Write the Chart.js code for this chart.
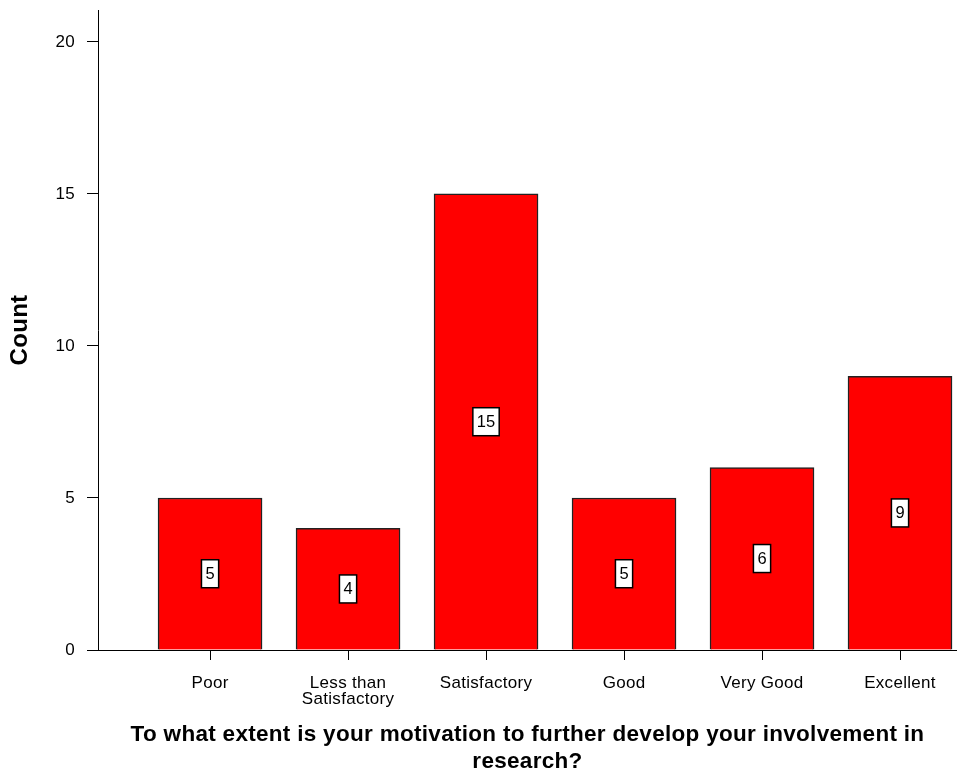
<!DOCTYPE html>
<html>
<head>
<meta charset="utf-8">
<script src="https://cdn.jsdelivr.net/npm/chart.js@4/dist/chart.umd.min.js"></script>
<style>
  html, body { margin: 0; padding: 0; background: #fff; }
  #wrap { width: 957px; height: 772px; position: relative; }
</style>
</head>
<body>
<div id="wrap"><canvas id="chart"></canvas></div>
<script>
  // chart values
  var categories = ['Poor', ['Less than', 'Satisfactory'], 'Satisfactory', 'Good', 'Very Good', 'Excellent'];
  var counts = [5, 4, 15, 5, 6, 9];
  var yTicks = [0, 5, 10, 15, 20];

  var FONT = '"Liberation Sans", Arial, sans-serif';
  var SPACING = '0.3px';

  var points = counts.map(function (v, i) { return { x: i + 1, y: v }; });

  // the original text is set a little looser than canvas Arial
  var looseText = {
    id: 'looseText',
    beforeUpdate: function (chart) { chart.ctx.letterSpacing = SPACING; },
    beforeDraw: function (chart) { chart.ctx.letterSpacing = SPACING; }
  };

  // white boxed value labels in the middle of each bar
  var valueLabels = {
    id: 'valueLabels',
    afterDatasetsDraw: function (chart) {
      var ctx = chart.ctx;
      var meta = chart.getDatasetMeta(0);
      ctx.save();
      ctx.letterSpacing = '0px';
      ctx.font = '16.5px ' + FONT;
      ctx.textAlign = 'center';
      ctx.textBaseline = 'middle';
      meta.data.forEach(function (bar, i) {
        var text = String(counts[i]);
        var cx = bar.x;
        var cy = (bar.y + bar.base) / 2;
        var w = ctx.measureText(text).width + 8;
        var h = 28;
        ctx.fillStyle = '#fff';
        ctx.fillRect(cx - w / 2, cy - h / 2, w, h);
        ctx.lineWidth = 1.5;
        ctx.strokeStyle = '#000';
        ctx.strokeRect(cx - w / 2, cy - h / 2, w, h);
        ctx.fillStyle = '#000';
        ctx.fillText(text, cx, cy + 1);
      });
      ctx.restore();
    }
  };

  new Chart(document.getElementById('chart'), {
    type: 'bar',
    data: {
      datasets: [{
        data: points,
        backgroundColor: '#ff0000',
        borderColor: '#222',
        borderWidth: 1.5,
        barThickness: 104
      }]
    },
    options: {
      responsive: true,
      maintainAspectRatio: false,
      animation: false,
      layout: { padding: { top: 10, left: 0, right: 0, bottom: 0 } },
      plugins: { legend: { display: false }, tooltip: { enabled: false } },
      scales: {
        x: {
          type: 'linear',
          offset: false,
          min: 0.188,
          max: 6.413,
          afterBuildTicks: function (scale) {
            scale.ticks = categories.map(function (c, i) { return { value: i + 1 }; });
          },
          afterFit: function (scale) {
            scale.height = 122;
            scale.paddingLeft = 0; scale.paddingRight = 0;
          },
          ticks: {
            autoSkip: false,
            maxRotation: 0,
            padding: 15,
            color: '#000',
            font: { family: FONT, size: 17, lineHeight: 0.95 },
            callback: function (v) { return categories[v - 1]; }
          },
          grid: { offset: false, drawOnChartArea: false, drawTicks: true, tickLength: 10, color: '#000', tickColor: '#000' },
          border: { display: true, color: '#000', width: 1 },
          title: {
            display: true,
            text: ['To what extent is your motivation to further develop your involvement in', 'research?'],
            color: '#000',
            font: { family: FONT, size: 22.5, weight: 'bold', lineHeight: 1.2 },
            padding: { top: 0, bottom: -3 }
          }
        },
        y: {
          min: 0,
          max: 21.05,
          afterBuildTicks: function (scale) {
            scale.ticks = yTicks.map(function (t) { return { value: t }; });
          },
          afterFit: function (scale) {
            scale.width = 98;
            scale.paddingTop = 0; scale.paddingBottom = 0;
          },
          ticks: {
            padding: 12,
            color: '#000',
            font: { family: FONT, size: 17 }
          },
          grid: { drawOnChartArea: false, drawTicks: true, tickLength: 11, color: '#000', tickColor: '#000' },
          border: { display: true, color: '#000', width: 1 },
          title: {
            display: true,
            text: 'Count',
            color: '#000',
            font: { family: FONT, size: 24, weight: 'bold', lineHeight: 1.2 },
            padding: { top: 5.5, bottom: 0 }
          }
        }
      }
    },
    plugins: [looseText, valueLabels]
  });
</script>
</body>
</html>
